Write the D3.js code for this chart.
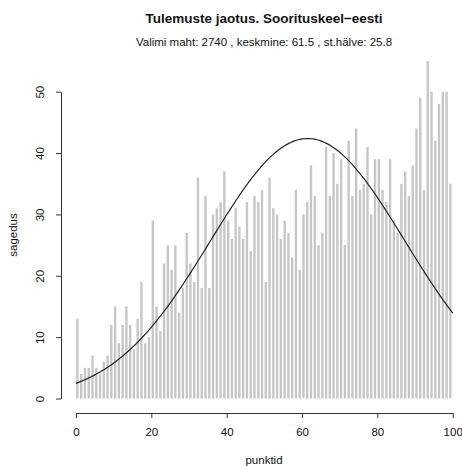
<!DOCTYPE html>
<html>
<head>
<meta charset="utf-8">
<script src="https://cdn.jsdelivr.net/npm/d3@7"></script>
<style>
  body { margin: 0; background: #fff; }
  svg { display: block; font-family: "Liberation Sans", Arial, sans-serif; }
</style>
</head>
<body>
<svg id="chart" width="462" height="466"></svg>
<script>
// frequency of each score 0..99
const counts = [
    13, 4, 5, 5, 7, 5, 4, 6, 7, 12,
    15, 9, 12, 15, 12, 8, 13, 19, 9, 10,
    29, 15, 11, 22, 25, 21, 25, 14, 18, 27,
    22, 19, 36, 18, 33, 18, 30, 31, 32, 37,
    29, 26, 31, 28, 26, 32, 24, 33, 32, 34,
    19, 36, 31, 30, 26, 29, 27, 23, 34, 21,
    30, 32, 38, 33, 25, 27, 41, 33, 40, 35,
    39, 25, 42, 33, 44, 34, 35, 41, 30, 39,
    39, 34, 32, 39, 29, 27, 35, 37, 33, 38,
    44, 49, 34, 55, 50, 42, 48, 50, 50, 35
];
const xTicks = [0, 20, 40, 60, 80, 100];
const yTicks = [0, 10, 20, 30, 40, 50];
const sampleSize = 2740;
const mean = 61.5;
const sd = 25.8;

const title = "Tulemuste jaotus. Soorituskeel\u2212eesti";
const subtitle = `Valimi maht: ${sampleSize} , keskmine: ${mean} , st.hälve: ${sd}`;

const svg = d3.select("#chart");

const x = d3.scaleLinear().domain([0, 100]).range([76, 452.7]);
const y = d3.scaleLinear().domain([0, 50]).range([398.5, 91.7]);

const barWidth = (x(1) - x(0)) * 0.62;

// bars
svg.append("g")
    .selectAll("rect")
    .data(counts)
    .join("rect")
    .attr("x", (d, i) => x(i + 0.38) - barWidth / 2)
    .attr("width", barWidth)
    .attr("y", d => y(d))
    .attr("height", d => y(0) - y(d))
    .attr("fill", "#c6c6c6");

// normal curve scaled to counts
const dens = v => sampleSize / (sd * Math.sqrt(2 * Math.PI)) * Math.exp(-0.5 * ((v - mean) / sd) ** 2);
const curveX = d3.range(0, 100.01, 0.5);
svg.append("path")
    .datum(curveX)
    .attr("fill", "none")
    .attr("stroke", "#222")
    .attr("stroke-width", 1.2)
    .attr("d", d3.line().x(v => x(v)).y(v => y(dens(v))));

// x axis
const xAxis = svg.append("g")
    .attr("transform", "translate(0,413)")
    .call(d3.axisBottom(x).tickValues(xTicks).tickSize(5).tickSizeOuter(0).tickPadding(10));
xAxis.selectAll("text").attr("font-size", 11.5).attr("font-family", null).attr("fill", "#111");

// y axis
const yAxis = svg.append("g")
    .attr("transform", "translate(61,0)")
    .call(d3.axisLeft(y).tickValues(yTicks).tickSize(5).tickSizeOuter(0));
yAxis.selectAll("text")
    .attr("font-size", 11.5)
    .attr("font-family", null)
    .attr("fill", "#111")
    .attr("x", null)
    .attr("dy", null)
    .attr("text-anchor", "middle")
    .attr("transform", "translate(-17.5,0) rotate(-90)");

svg.selectAll(".domain, .tick line").attr("stroke", "#333");

// titles
svg.append("text")
    .attr("x", 264).attr("y", 23)
    .attr("text-anchor", "middle")
    .attr("font-size", 13.5)
    .attr("font-weight", "bold")
    .attr("fill", "#111")
    .text(title);

svg.append("text")
    .attr("x", 264).attr("y", 46)
    .attr("text-anchor", "middle")
    .attr("font-size", 11.5)
    .attr("fill", "#111")
    .text(subtitle);

svg.append("text")
    .attr("x", 264).attr("y", 464)
    .attr("text-anchor", "middle")
    .attr("font-size", 11.5)
    .attr("fill", "#111")
    .text("punktid");

svg.append("text")
    .attr("transform", "translate(17,235) rotate(-90)")
    .attr("text-anchor", "middle")
    .attr("font-size", 11.5)
    .attr("fill", "#111")
    .text("sagedus");
</script>
</body>
</html>
